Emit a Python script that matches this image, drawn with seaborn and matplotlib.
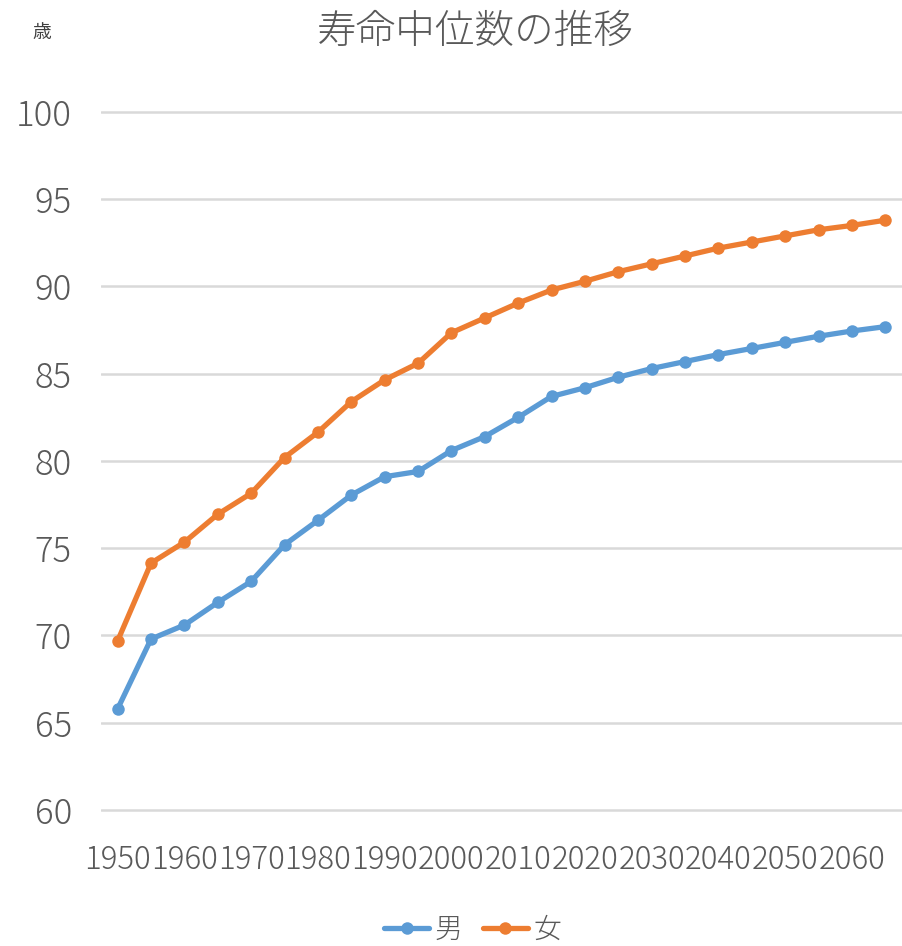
import numpy as np
import pandas as pd
import matplotlib
matplotlib.use("Agg")
import matplotlib.pyplot as plt
import seaborn as sns

years = list(range(1950, 2070, 5))
male = [65.8, 69.8, 70.6, 71.9, 73.1, 75.2, 76.6, 78.05, 79.1, 79.4, 80.6, 81.4,
        82.5, 83.7, 84.2, 84.8, 85.3, 85.7, 86.1, 86.45, 86.8, 87.15, 87.45, 87.7]
female = [69.7, 74.15, 75.35, 76.95, 78.15, 80.2, 81.65, 83.4, 84.65, 85.6, 87.35, 88.2,
          89.05, 89.8, 90.3, 90.85, 91.3, 91.75, 92.2, 92.55, 92.9, 93.25, 93.5, 93.8]
series_names = ["男", "女"]
tick_years = list(range(1950, 2070, 10))
y_ticks = list(range(60, 105, 5))

df = pd.DataFrame({
    "year": years * 2,
    "age": male + female,
    "sex": [series_names[0]] * len(years) + [series_names[1]] * len(years),
})

sns.set_theme(style="white")
plt.rcParams["font.family"] = ["Noto Sans CJK JP", "DejaVu Sans"]

text_color = "#595959"
palette = {"男": "#5B9BD5", "女": "#ED7D31"}

# pixel layout: value 60 sits at y=810, value 100 at y=112
y_lo, y_hi = 59.8, 100.2
px_per_unit = (810 - 112) / 40.0
bottom_px = 810 + (60 - y_lo) * px_per_unit
top_px = 112 - (y_hi - 100) * px_per_unit

fig = plt.figure(figsize=(9.02, 9.46), dpi=100)
ax = fig.add_axes([101 / 902, 1 - bottom_px / 946, (902 - 101) / 902, (bottom_px - top_px) / 946])

sns.lineplot(data=df, x="year", y="age", hue="sex", palette=palette, marker="o",
             markersize=9, linewidth=3.8, markeredgewidth=0, ax=ax, legend=True)

ax.set_xlim(1947.5, 2067.5)
ax.set_ylim(y_lo, y_hi)
ax.set_yticks(y_ticks)
ax.set_xticks(tick_years)
ax.set_xticklabels([str(y) for y in tick_years])
ax.yaxis.grid(True, color="#D9D9D9", linewidth=1.8)
ax.xaxis.grid(False)
ax.set_axisbelow(True)
for s in ax.spines.values():
    s.set_visible(False)
ax.set_xlabel("")
ax.set_ylabel("")
ax.tick_params(axis="both", length=0, colors=text_color)
ax.tick_params(axis="y", pad=21, labelsize=25)
ax.tick_params(axis="x", pad=22, labelsize=22.5)
for lbl in ax.get_xticklabels() + ax.get_yticklabels():
    lbl.set_fontweight("light")
    lbl.set_color(text_color)

fig.text(0.527, 0.966, "寿命中位数の推移", ha="center", va="center",
         fontsize=28.5, color=text_color, fontweight="light")
fig.text(0.046, 0.966, "歳", ha="center", va="center", fontsize=13.5, color="#404040")

handles, labels = ax.get_legend_handles_labels()
ax.legend_.remove()
leg = fig.legend(handles, labels, loc="center", bbox_to_anchor=(0.524, 0.017), ncol=2,
                 frameon=False, fontsize=20, handlelength=1.6, columnspacing=0.75,
                 handletextpad=0.2)
for t in leg.get_texts():
    t.set_color(text_color)
    t.set_fontweight("light")

fig.savefig("out.png", dpi=100)
